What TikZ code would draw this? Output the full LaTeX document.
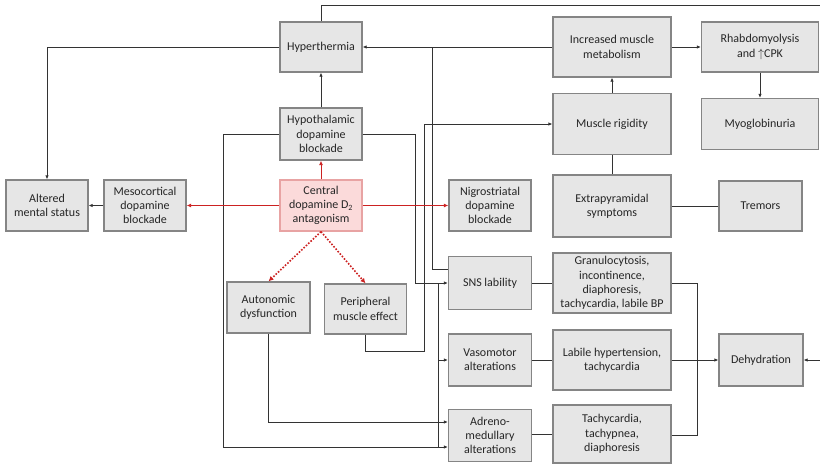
\documentclass[tikz,border=0pt]{standalone}
\usepackage{fontspec}
\setmainfont{Carlito}
\usetikzlibrary{arrows.meta,shadows}
\definecolor{boxfill}{HTML}{E6E6E6}
\definecolor{boxline}{HTML}{858585}
\definecolor{pinkfill}{HTML}{FBDADA}
\definecolor{pinkline}{HTML}{E8A3A3}
\definecolor{redline}{HTML}{CC2222}
\definecolor{conn}{HTML}{333333}
\definecolor{txt}{HTML}{262626}
\begin{document}
\begin{tikzpicture}[x=1pt,y=-1pt,
 box/.style={draw=boxline, line width=1.3pt, fill=boxfill, text=txt, align=center,
   font=\fontsize{12}{14.3}\selectfont, inner sep=0pt,
   drop shadow={shadow xshift=0.8pt,shadow yshift=-0.8pt,opacity=0.35}},
 pbox/.style={box, draw=pinkline, fill=pinkfill},
 ln/.style={draw=conn, line width=0.8pt},
 ar/.style={ln, -{Latex[length=4pt,width=3.5pt]}},
 rar/.style={draw=redline, line width=1pt, -{Latex[length=4.5pt,width=4pt]}},
 dar/.style={draw=redline, line width=1.6pt, dash pattern=on 1.6pt off 1.6pt, -{Latex[length=5pt,width=5pt]}},
]
\useasboundingbox (0,0) rectangle (820,464);
% nodes
\node[box, minimum width=82pt, minimum height=50pt] (hyp) at (321,47) {Hyperthermia};
\node[box, minimum width=82pt, minimum height=52pt] (hypo) at (321,134) {Hypothalamic\\dopamine\\blockade};
\node[pbox, minimum width=82pt, minimum height=51pt] (cen) at (321,205.5) {Central\\dopamine D\textsubscript{2}\\antagonism};
\node[box, minimum width=82pt, minimum height=51pt] (meso) at (145,205.5) {Mesocortical\\dopamine\\blockade};
\node[box, minimum width=82pt, minimum height=51pt] (ams) at (47,205.5) {Altered\\mental status};
\node[box, minimum width=82pt, minimum height=51pt] (nigro) at (490,205.5) {Nigrostriatal\\dopamine\\blockade};
\node[box, minimum width=83pt, minimum height=51pt] (auto) at (268.5,307.5) {Autonomic\\dysfunction};
\node[box, minimum width=82pt, minimum height=50pt] (peri) at (365.5,309) {Peripheral\\muscle effect};
\node[box, minimum width=118pt, minimum height=60pt] (imm) at (612,47) {Increased muscle\\metabolism};
\node[box, minimum width=117pt, minimum height=50pt] (rhab) at (760,47) {Rhabdomyolysis\\and $\uparrow$CPK};
\node[box, minimum width=117pt, minimum height=51pt] (myo) at (760,124) {Myoglobinuria};
\node[box, minimum width=118pt, minimum height=61pt] (mr) at (612,124) {Muscle rigidity};
\node[box, minimum width=118pt, minimum height=62pt] (eps) at (612,206) {Extrapyramidal\\symptoms};
\node[box, minimum width=83pt, minimum height=50pt] (trem) at (760.5,206) {Tremors};
\node[box, minimum width=83pt, minimum height=53pt] (sns) at (490,283) {SNS lability};
\node[box, minimum width=118pt, minimum height=60pt] (gran) at (612,283) {Granulocytosis,\\incontinence,\\diaphoresis,\\tachycardia, labile BP};
\node[box, minimum width=83pt, minimum height=52pt] (vaso) at (490,360) {Vasomotor\\alterations};
\node[box, minimum width=118pt, minimum height=60pt] (lab) at (612,360) {Labile hypertension,\\tachycardia};
\node[box, minimum width=83pt, minimum height=52pt] (adr) at (490,435.5) {Adreno-\\medullary\\alterations};
\node[box, minimum width=118pt, minimum height=58pt] (tach) at (612,434) {Tachycardia,\\tachypnea,\\diaphoresis};
\node[box, minimum width=84pt, minimum height=52pt] (deh) at (761,360) {Dehydration};
% free ends and junctions
\coordinate (topR) at (820,5);
\coordinate (dehR) at (820,360);
\coordinate (j1) at (432,47);
\coordinate (bR) at (424,124);
\coordinate (cR) at (415,283);
\coordinate (eT) at (438,283);
\coordinate (eB) at (438,447);
\coordinate (dB) at (223,447);
\coordinate (rJ) at (697,435);
% black connectors
\draw[ln] (hyp.north) |- (topR);
\draw[ar] (dehR) -- (deh.east);
\draw[ar] (hyp.west) -| (ams.north);
\draw[ar] (imm.west) -- (hyp.east);
\draw[ln] ([yshift=14pt]sns.west) -| (j1);
\draw[ar] (hypo.north) -- (hyp.south);
\draw[ar] (peri.south) -- ++(0,17) -| (bR) -- (mr.west);
\draw[ar] (hypo.east) -| (cR) -- (sns.west);
\draw[ln] (eT) -- (eB);
\draw[ar] (eT |- vaso.west) -- (vaso.west);
\draw[ar] (hypo.west) -| (dB) -- ([yshift=-11.5pt]adr.west);
\draw[ar] (auto.south) |- ([yshift=13.5pt]adr.west);
\draw[ln] (sns.east) -- (gran.west);
\draw[ln] (vaso.east) -- (lab.west);
\draw[ln] (adr.east |- tach.west) -- (tach.west);
\draw[ln] (gran.east) -| (rJ) -- (rJ -| tach.east);
\draw[ar] (lab.east) -- (deh.west);
\draw[ar] (mr.north) -- (imm.south);
\draw[ln] (eps.north) -- (mr.south);
\draw[ln] (eps.east) -- (trem.west);
\draw[ar] (imm.east) -- (rhab.west);
\draw[ar] (rhab.south) -- (myo.north);
\draw[ar] (meso.west) -- (ams.east);
% red connectors
\draw[rar] (cen.north) -- (hypo.south);
\draw[rar] (cen.west) -- (meso.east);
\draw[rar] (cen.east) -- (nigro.west);
\draw[dar] (cen.south) -- (auto.north);
\draw[dar] (cen.south) -- (peri.north);
\end{tikzpicture}
\end{document}
